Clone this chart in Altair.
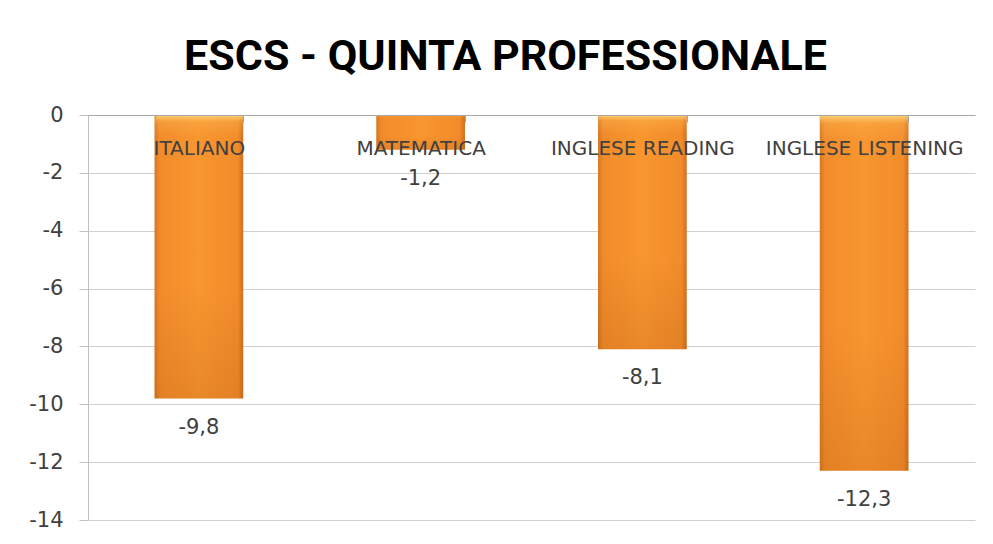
import altair as alt
import pandas as pd

categories = ["ITALIANO", "MATEMATICA", "INGLESE READING", "INGLESE LISTENING"]
values = [-9.8, -1.2, -8.1, -12.3]
y_ticks = [0, -2, -4, -6, -8, -10, -12, -14]

df = pd.DataFrame({"materia": categories, "valore": values})

W, H = 887, 405
TXT = "#404040"
FONT = "DejaVu Sans"

x_enc = alt.X(
    "materia:N", sort=categories, title=None,
    scale=alt.Scale(paddingInner=0.6, paddingOuter=0.3),
    axis=alt.Axis(
        orient="bottom", offset=-H, labelAngle=0, labelFont=FONT,
        labelFontSize=20, labelColor=TXT, labelPadding=16, labelLimit=400,
        labelOverlap=False, tickBand="extent", tickSize=7,
        tickColor="#A6A6A6", domainColor="#A6A6A6", grid=False, zindex=1,
    ),
)
y_enc = alt.Y(
    "valore:Q", title=None,
    scale=alt.Scale(domain=[-14, 0], nice=False),
    axis=alt.Axis(
        values=y_ticks, labelExpr="'' + datum.value", labelFont=FONT,
        labelFontSize=21, labelColor=TXT, tickSize=9, labelPadding=16,
        gridColor="#D0D0D0", domainColor="#C0C0C0", tickColor="#C0C0C0",
    ),
)

h_grad = alt.Gradient(
    gradient="linear", x1=0, x2=1, y1=0, y2=0,
    stops=[
        alt.GradientStop(color="#D6761F", offset=0),
        alt.GradientStop(color="#F28C2B", offset=0.06),
        alt.GradientStop(color="#F8962F", offset=0.5),
        alt.GradientStop(color="#F28C2B", offset=0.94),
        alt.GradientStop(color="#D0701E", offset=1),
    ],
)
v_grad = alt.Gradient(
    gradient="linear", x1=0, x2=0, y1=0, y2=1,
    stops=[
        alt.GradientStop(color="rgba(255,225,140,0.85)", offset=0),
        alt.GradientStop(color="rgba(255,200,100,0.25)", offset=0.025),
        alt.GradientStop(color="rgba(255,200,100,0)", offset=0.08),
        alt.GradientStop(color="rgba(140,60,0,0)", offset=0.6),
        alt.GradientStop(color="rgba(140,60,0,0.15)", offset=1),
    ],
)

base = alt.Chart(df)
bars = base.mark_bar(color=h_grad).encode(x=x_enc, y=y_enc)
overlay = base.mark_bar(color=v_grad).encode(x=x_enc, y=y_enc)
labels = base.transform_calculate(
    lab="replace(replace(format(datum.valore, '.1f'), '.', ','), '\u2212', '-')"
).mark_text(
    font=FONT, fontSize=21, color=TXT, baseline="middle", dy=29
).encode(x=x_enc, y=y_enc, text="lab:N")

chart = alt.layer(bars, overlay, labels).properties(
    width=W, height=H,
    padding={"left": 80, "top": 107, "right": 10, "bottom": 10},
    autosize=alt.AutoSizeParams(type="none"),
    title=alt.TitleParams(
        "ESCS - QUINTA PROFESSIONALE", font="Roboto",
        fontSize=43, fontWeight="bold", color="black", anchor="middle",
        frame="group", dx=-26, offset=-9, baseline="alphabetic",
    ),
).configure_view(stroke=None)

chart.save("out.html", embed_options={"renderer": "svg", "actions": False})
